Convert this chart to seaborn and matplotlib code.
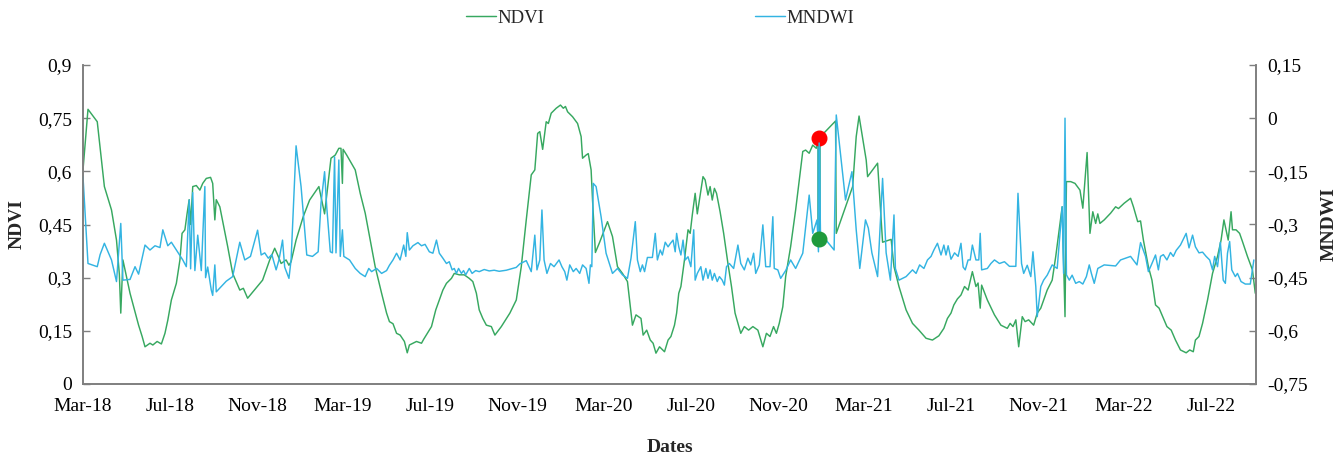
import matplotlib
matplotlib.use("Agg")
import matplotlib.pyplot as plt
from matplotlib.ticker import FixedLocator, FuncFormatter
import seaborn as sns
import pandas as pd

# ---------------- data ----------------
ndvi_dates = [
    "2018-03-01", "2018-03-08", "2018-03-21", "2018-03-31", "2018-04-10", "2018-04-17", "2018-04-21",
    "2018-04-23", "2018-04-26", "2018-05-06", "2018-05-18", "2018-05-23", "2018-05-27", "2018-06-03",
    "2018-06-07", "2018-06-13", "2018-06-19", "2018-06-24", "2018-06-28", "2018-07-03", "2018-07-10",
    "2018-07-15", "2018-07-18", "2018-07-22", "2018-07-25", "2018-07-28", "2018-07-30", "2018-08-02",
    "2018-08-07", "2018-08-12", "2018-08-16", "2018-08-21", "2018-08-27", "2018-08-30", "2018-09-02",
    "2018-09-04", "2018-09-09", "2018-09-20", "2018-09-27", "2018-10-07", "2018-10-12", "2018-10-18",
    "2018-11-08", "2018-11-18", "2018-11-25", "2018-11-30", "2018-12-04", "2018-12-11", "2018-12-15",
    "2018-12-18", "2018-12-25", "2019-01-04", "2019-01-13", "2019-01-26", "2019-02-03", "2019-02-12",
    "2019-02-18", "2019-02-23", "2019-02-26", "2019-02-28", "2019-03-01", "2019-03-06", "2019-03-18",
    "2019-03-25", "2019-04-01", "2019-04-08", "2019-04-15", "2019-04-24", "2019-05-01", "2019-05-05",
    "2019-05-10", "2019-05-15", "2019-05-20", "2019-05-26", "2019-05-30", "2019-06-02", "2019-06-12",
    "2019-06-19", "2019-06-22", "2019-07-03", "2019-07-09", "2019-07-14", "2019-07-19", "2019-07-24",
    "2019-07-31", "2019-08-04", "2019-08-11", "2019-08-18", "2019-08-25", "2019-08-30", "2019-09-04",
    "2019-09-08", "2019-09-13", "2019-09-18", "2019-09-25", "2019-09-30", "2019-10-09", "2019-10-21",
    "2019-10-30", "2019-11-06", "2019-11-13", "2019-11-20", "2019-11-25", "2019-11-29", "2019-12-02",
    "2019-12-06", "2019-12-11", "2019-12-14", "2019-12-18", "2019-12-25", "2019-12-31", "2020-01-04",
    "2020-01-07", "2020-01-10", "2020-01-17", "2020-01-24", "2020-01-29", "2020-01-31", "2020-02-05",
    "2020-02-08", "2020-02-12", "2020-02-14", "2020-02-18", "2020-02-24", "2020-03-06", "2020-03-13",
    "2020-03-20", "2020-03-27", "2020-04-03", "2020-04-10", "2020-04-15", "2020-04-22", "2020-04-25",
    "2020-04-30", "2020-05-05", "2020-05-09", "2020-05-13", "2020-05-18", "2020-05-25", "2020-05-30",
    "2020-06-03", "2020-06-08", "2020-06-11", "2020-06-14", "2020-06-17", "2020-06-22", "2020-06-27",
    "2020-06-30", "2020-07-03", "2020-07-07", "2020-07-10", "2020-07-13", "2020-07-18", "2020-07-21",
    "2020-07-25", "2020-07-28", "2020-07-31", "2020-08-03", "2020-08-06", "2020-08-11", "2020-08-16",
    "2020-08-22", "2020-08-27", "2020-09-01", "2020-09-09", "2020-09-14", "2020-09-20", "2020-09-26",
    "2020-10-03", "2020-10-10", "2020-10-15", "2020-10-20", "2020-10-25", "2020-10-29", "2020-11-02",
    "2020-11-07", "2020-11-11", "2020-11-18", "2020-11-25", "2020-12-05", "2020-12-09", "2020-12-14",
    "2020-12-19", "2020-12-24", "2020-12-28", "2021-01-20", "2021-01-21", "2021-02-13", "2021-02-18",
    "2021-02-22", "2021-03-04", "2021-03-06", "2021-03-20", "2021-03-27", "2021-04-08", "2021-04-12",
    "2021-04-19", "2021-04-29", "2021-05-08", "2021-05-17", "2021-05-27", "2021-06-05", "2021-06-14",
    "2021-06-21", "2021-06-26", "2021-07-01", "2021-07-05", "2021-07-10", "2021-07-15", "2021-07-20",
    "2021-07-25", "2021-07-31", "2021-08-05", "2021-08-08", "2021-08-11", "2021-08-13", "2021-08-21",
    "2021-08-31", "2021-09-09", "2021-09-18", "2021-09-22", "2021-09-26", "2021-09-30", "2021-10-04",
    "2021-10-09", "2021-10-13", "2021-10-18", "2021-10-25", "2021-10-30", "2021-11-04", "2021-11-13",
    "2021-11-20", "2021-11-25", "2021-12-04", "2021-12-08", "2021-12-10", "2021-12-16", "2021-12-22",
    "2021-12-29", "2022-01-02", "2022-01-08", "2022-01-12", "2022-01-16", "2022-01-20", "2022-01-23",
    "2022-01-26", "2022-02-01", "2022-02-10", "2022-02-17", "2022-02-21", "2022-03-01", "2022-03-10",
    "2022-03-14", "2022-03-20", "2022-03-24", "2022-03-28", "2022-04-04", "2022-04-09", "2022-04-14",
    "2022-04-19", "2022-04-24", "2022-04-30", "2022-05-06", "2022-05-12", "2022-05-19", "2022-05-27",
    "2022-06-01", "2022-06-06", "2022-06-09", "2022-06-14", "2022-06-19", "2022-06-26", "2022-07-03",
    "2022-07-10", "2022-07-15", "2022-07-19", "2022-07-22", "2022-07-25", "2022-07-29", "2022-07-31",
    "2022-08-05", "2022-08-10", "2022-08-14", "2022-08-21", "2022-08-28", "2022-09-01",
]
ndvi_values = [
    0.604, 0.775, 0.74, 0.557, 0.491, 0.406, 0.31,
    0.20, 0.35, 0.256, 0.166, 0.134, 0.105, 0.115,
    0.11, 0.12, 0.113, 0.143, 0.18, 0.237, 0.284,
    0.35, 0.425, 0.435, 0.48, 0.52, 0.45, 0.557,
    0.56, 0.547, 0.566, 0.58, 0.583, 0.566, 0.463,
    0.52, 0.50, 0.388, 0.312, 0.265, 0.27, 0.242,
    0.293, 0.35, 0.383, 0.36, 0.34, 0.35, 0.335,
    0.345, 0.406, 0.472, 0.519, 0.557, 0.48, 0.637,
    0.646, 0.665, 0.665, 0.566, 0.662, 0.646, 0.604,
    0.538, 0.482, 0.406, 0.331, 0.256, 0.20, 0.176,
    0.17, 0.143, 0.138, 0.12, 0.088, 0.11, 0.12,
    0.115, 0.126, 0.162, 0.209, 0.237, 0.265, 0.284,
    0.298, 0.312, 0.308, 0.308, 0.298, 0.289, 0.256,
    0.209, 0.185, 0.166, 0.162, 0.138, 0.162, 0.20,
    0.237, 0.331, 0.463, 0.59, 0.604, 0.707, 0.712,
    0.662, 0.74, 0.735, 0.764, 0.778, 0.787, 0.778,
    0.783, 0.768, 0.754, 0.735, 0.698, 0.637, 0.646,
    0.65, 0.604, 0.519, 0.371, 0.40, 0.458, 0.416,
    0.331, 0.312, 0.289, 0.166, 0.195, 0.185, 0.138,
    0.152, 0.124, 0.115, 0.087, 0.105, 0.091, 0.124,
    0.134, 0.166, 0.20, 0.256, 0.275, 0.35, 0.435,
    0.425, 0.477, 0.538, 0.48, 0.519, 0.585, 0.576,
    0.533, 0.557, 0.519, 0.552, 0.538, 0.486, 0.425,
    0.34, 0.275, 0.20, 0.143, 0.162, 0.152, 0.162,
    0.152, 0.105, 0.143, 0.134, 0.162, 0.143, 0.171,
    0.218, 0.303, 0.388, 0.491, 0.656, 0.66, 0.651,
    0.674, 0.665, 0.694, 0.742, 0.425, 0.557, 0.698,
    0.756, 0.632, 0.585, 0.623, 0.40, 0.408, 0.331,
    0.275, 0.209, 0.171, 0.152, 0.129, 0.124, 0.136,
    0.157, 0.185, 0.20, 0.223, 0.24, 0.251, 0.275,
    0.265, 0.317, 0.275, 0.285, 0.214, 0.279, 0.237,
    0.195, 0.166, 0.157, 0.171, 0.162, 0.181, 0.105,
    0.19, 0.176, 0.181, 0.166, 0.20, 0.214, 0.265,
    0.293, 0.36, 0.50, 0.19, 0.571, 0.571, 0.566,
    0.547, 0.496, 0.653, 0.425, 0.486, 0.453, 0.48,
    0.453, 0.463, 0.482, 0.50, 0.495, 0.51, 0.524,
    0.50, 0.458, 0.46, 0.406, 0.331, 0.293, 0.223,
    0.214, 0.19, 0.162, 0.152, 0.124, 0.096, 0.088,
    0.096, 0.091, 0.124, 0.134, 0.171, 0.237, 0.312,
    0.36, 0.406, 0.463, 0.435, 0.406, 0.486, 0.435,
    0.435, 0.425, 0.402, 0.36, 0.322, 0.256,
]

mndwi_dates = [
    "2018-03-01", "2018-03-08", "2018-03-21", "2018-03-25", "2018-03-31", "2018-04-10", "2018-04-17",
    "2018-04-23", "2018-04-26", "2018-05-06", "2018-05-13", "2018-05-18", "2018-05-27", "2018-06-03",
    "2018-06-10", "2018-06-17", "2018-06-21", "2018-06-28", "2018-07-03", "2018-07-10", "2018-07-19",
    "2018-07-24", "2018-07-28", "2018-07-30", "2018-08-02", "2018-08-05", "2018-08-09", "2018-08-14",
    "2018-08-19", "2018-08-20", "2018-08-23", "2018-08-28", "2018-08-30", "2018-09-02", "2018-09-04",
    "2018-09-18", "2018-09-27", "2018-10-07", "2018-10-14", "2018-10-22", "2018-11-01", "2018-11-06",
    "2018-11-11", "2018-11-16", "2018-11-21", "2018-11-27", "2018-12-01", "2018-12-06", "2018-12-09",
    "2018-12-15", "2018-12-18", "2018-12-25", "2019-01-01", "2019-01-09", "2019-01-17", "2019-01-25",
    "2019-01-29", "2019-02-03", "2019-02-06", "2019-02-11", "2019-02-14", "2019-02-17", "2019-02-19",
    "2019-02-23", "2019-02-25", "2019-02-28", "2019-03-02", "2019-03-10", "2019-03-18", "2019-03-25",
    "2019-04-01", "2019-04-06", "2019-04-10", "2019-04-17", "2019-04-24", "2019-05-01", "2019-05-05",
    "2019-05-10", "2019-05-15", "2019-05-20", "2019-05-25", "2019-05-28", "2019-05-30", "2019-06-02",
    "2019-06-07", "2019-06-14", "2019-06-19", "2019-06-24", "2019-06-30", "2019-07-05", "2019-07-10",
    "2019-07-14", "2019-07-19", "2019-07-24", "2019-07-28", "2019-08-01", "2019-08-04", "2019-08-07",
    "2019-08-10", "2019-08-14", "2019-08-17", "2019-08-20", "2019-08-25", "2019-08-29", "2019-09-03",
    "2019-09-08", "2019-09-15", "2019-09-22", "2019-09-29", "2019-10-06", "2019-10-16", "2019-10-25",
    "2019-10-30", "2019-11-04", "2019-11-13", "2019-11-20", "2019-11-25", "2019-11-28", "2019-12-02",
    "2019-12-05", "2019-12-08", "2019-12-12", "2019-12-17", "2019-12-22", "2019-12-29", "2020-01-02",
    "2020-01-06", "2020-01-09", "2020-01-13", "2020-01-18", "2020-01-22", "2020-01-27", "2020-01-31",
    "2020-02-05", "2020-02-09", "2020-02-11", "2020-02-13", "2020-02-15", "2020-02-19", "2020-02-26",
    "2020-03-04", "2020-03-13", "2020-03-20", "2020-03-27", "2020-04-03", "2020-04-08", "2020-04-14",
    "2020-04-17", "2020-04-21", "2020-04-24", "2020-04-27", "2020-05-01", "2020-05-08", "2020-05-12",
    "2020-05-15", "2020-05-19", "2020-05-22", "2020-05-26", "2020-05-30", "2020-06-02", "2020-06-06",
    "2020-06-09", "2020-06-11", "2020-06-14", "2020-06-17", "2020-06-20", "2020-06-23", "2020-06-27",
    "2020-07-01", "2020-07-05", "2020-07-07", "2020-07-10", "2020-07-15", "2020-07-18", "2020-07-22",
    "2020-07-25", "2020-07-28", "2020-07-31", "2020-08-03", "2020-08-07", "2020-08-10", "2020-08-14",
    "2020-08-17", "2020-08-20", "2020-08-24", "2020-08-30", "2020-09-05", "2020-09-09", "2020-09-14",
    "2020-09-19", "2020-09-23", "2020-09-27", "2020-09-30", "2020-10-05", "2020-10-10", "2020-10-14",
    "2020-10-20", "2020-10-24", "2020-10-26", "2020-10-31", "2020-11-04", "2020-11-11", "2020-11-18",
    "2020-11-25", "2020-12-05", "2020-12-14", "2020-12-19", "2020-12-25", "2020-12-27", "2020-12-28",
    "2020-12-30", "2021-01-05", "2021-01-18", "2021-01-21", "2021-02-03", "2021-02-12", "2021-02-18",
    "2021-02-23", "2021-03-03", "2021-03-07", "2021-03-12", "2021-03-20", "2021-03-27", "2021-04-01",
    "2021-04-07", "2021-04-12", "2021-04-14", "2021-04-19", "2021-04-29", "2021-05-08", "2021-05-13",
    "2021-05-18", "2021-05-24", "2021-05-29", "2021-06-03", "2021-06-07", "2021-06-12", "2021-06-17",
    "2021-06-21", "2021-06-24", "2021-06-27", "2021-07-01", "2021-07-06", "2021-07-11", "2021-07-15",
    "2021-07-18", "2021-07-21", "2021-07-25", "2021-07-28", "2021-07-31", "2021-08-05", "2021-08-09",
    "2021-08-11", "2021-08-13", "2021-08-21", "2021-08-26", "2021-08-31", "2021-09-07", "2021-09-14",
    "2021-09-21", "2021-09-30", "2021-10-03", "2021-10-08", "2021-10-11", "2021-10-16", "2021-10-21",
    "2021-10-24", "2021-10-28", "2021-10-30", "2021-11-04", "2021-11-08", "2021-11-13", "2021-11-20",
    "2021-11-27", "2021-12-04", "2021-12-06", "2021-12-08", "2021-12-10", "2021-12-14", "2021-12-18",
    "2021-12-23", "2021-12-28", "2022-01-02", "2022-01-07", "2022-01-11", "2022-01-14", "2022-01-18",
    "2022-01-23", "2022-02-01", "2022-02-17", "2022-02-24", "2022-03-10", "2022-03-19", "2022-03-24",
    "2022-03-31", "2022-04-04", "2022-04-09", "2022-04-14", "2022-04-18", "2022-04-21", "2022-04-25",
    "2022-04-30", "2022-05-05", "2022-05-09", "2022-05-13", "2022-05-19", "2022-05-27", "2022-05-31",
    "2022-06-05", "2022-06-09", "2022-06-14", "2022-06-19", "2022-06-24", "2022-06-29", "2022-07-03",
    "2022-07-06", "2022-07-10", "2022-07-14", "2022-07-18", "2022-07-21", "2022-07-24", "2022-07-27",
    "2022-07-30", "2022-08-04", "2022-08-07", "2022-08-12", "2022-08-18", "2022-08-25", "2022-08-30",
]
mndwi_values = [
    -0.165, -0.41, -0.419, -0.385, -0.353, -0.40, -0.461,
    -0.297, -0.457, -0.455, -0.419, -0.44, -0.358, -0.372,
    -0.36, -0.365, -0.315, -0.36, -0.35, -0.372, -0.40,
    -0.419, -0.231, -0.425, -0.21, -0.43, -0.33, -0.43,
    -0.193, -0.45, -0.42, -0.485, -0.50, -0.414, -0.49,
    -0.46, -0.447, -0.35, -0.40, -0.39, -0.316, -0.386,
    -0.38, -0.395, -0.385, -0.428, -0.40, -0.344, -0.42,
    -0.452, -0.40, -0.078, -0.193, -0.386, -0.39, -0.377,
    -0.24, -0.151, -0.25, -0.377, -0.38, -0.109, -0.38,
    -0.118, -0.39, -0.315, -0.39, -0.40, -0.424, -0.438,
    -0.447, -0.424, -0.433, -0.424, -0.438, -0.43, -0.415,
    -0.40, -0.381, -0.40, -0.358, -0.39, -0.323, -0.372,
    -0.36, -0.351, -0.36, -0.356, -0.377, -0.381, -0.344,
    -0.381, -0.395, -0.41, -0.405, -0.428, -0.424, -0.438,
    -0.424, -0.438, -0.43, -0.442, -0.424, -0.438, -0.43,
    -0.433, -0.427, -0.431, -0.429, -0.432, -0.429, -0.424,
    -0.421, -0.411, -0.402, -0.433, -0.33, -0.428, -0.40,
    -0.259, -0.40, -0.438, -0.41, -0.419, -0.40, -0.419,
    -0.433, -0.457, -0.414, -0.433, -0.424, -0.438, -0.414,
    -0.424, -0.466, -0.414, -0.419, -0.184, -0.193, -0.278,
    -0.381, -0.438, -0.424, -0.442, -0.452, -0.395, -0.292,
    -0.40, -0.433, -0.414, -0.433, -0.393, -0.393, -0.325,
    -0.40, -0.372, -0.386, -0.35, -0.363, -0.354, -0.344,
    -0.377, -0.325, -0.363, -0.386, -0.344, -0.40, -0.391,
    -0.419, -0.315, -0.457, -0.438, -0.419, -0.457, -0.424,
    -0.452, -0.428, -0.457, -0.438, -0.461, -0.447, -0.457,
    -0.471, -0.419, -0.41, -0.424, -0.358, -0.41, -0.428,
    -0.395, -0.414, -0.381, -0.438, -0.414, -0.301, -0.419,
    -0.419, -0.278, -0.424, -0.428, -0.452, -0.43, -0.40,
    -0.424, -0.381, -0.217, -0.325, -0.287, -0.377, -0.07,
    -0.344, -0.34, -0.372, 0.009, -0.231, -0.151, -0.315,
    -0.424, -0.287, -0.31, -0.38, -0.447, -0.17, -0.38,
    -0.457, -0.273, -0.424, -0.457, -0.447, -0.428, -0.438,
    -0.414, -0.424, -0.40, -0.39, -0.372, -0.353, -0.386,
    -0.358, -0.386, -0.36, -0.398, -0.38, -0.39, -0.353,
    -0.42, -0.428, -0.40, -0.40, -0.358, -0.40, -0.40,
    -0.325, -0.428, -0.424, -0.41, -0.40, -0.41, -0.405,
    -0.418, -0.418, -0.212, -0.41, -0.438, -0.415, -0.447,
    -0.377, -0.475, -0.56, -0.475, -0.457, -0.443, -0.414,
    -0.424, -0.25, -0.438, 0.0, -0.442, -0.457, -0.443,
    -0.466, -0.461, -0.468, -0.447, -0.414, -0.438, -0.466,
    -0.424, -0.414, -0.417, -0.40, -0.39, -0.414, -0.351,
    -0.39, -0.433, -0.41, -0.386, -0.428, -0.39, -0.385,
    -0.40, -0.379, -0.39, -0.373, -0.358, -0.325, -0.366,
    -0.33, -0.363, -0.38, -0.378, -0.39, -0.40, -0.428,
    -0.39, -0.419, -0.35, -0.457, -0.466, -0.381, -0.348,
    -0.428, -0.447, -0.438, -0.461, -0.468, -0.468, -0.40,
]

highlight_date = "2020-12-28"
highlight_ndvi = 0.694      # red point (left axis)
highlight_mndwi = -0.341    # green point (right axis)

ndvi_ticks = [0, 0.15, 0.3, 0.45, 0.6, 0.75, 0.9]
mndwi_ticks = [-0.75, -0.6, -0.45, -0.3, -0.15, 0, 0.15]
x_tick_dates = ["2018-03-01", "2018-07-01", "2018-11-01", "2019-03-01", "2019-07-01",
                "2019-11-01", "2020-03-01", "2020-07-01", "2020-11-01", "2021-03-01",
                "2021-07-01", "2021-11-01", "2022-03-01", "2022-07-01"]
x_tick_labels = ["Mar-18", "Jul-18", "Nov-18", "Mar-19", "Jul-19", "Nov-19", "Mar-20",
                 "Jul-20", "Nov-20", "Mar-21", "Jul-21", "Nov-21", "Mar-22", "Jul-22"]

# ---------------- style ----------------
sns.set_style("white")
plt.rcParams["font.family"] = ["Liberation Serif", "DejaVu Serif"]

GREEN = "#37a860"
BLUE = "#33b4e2"
AXIS = "#7f7f7f"

df_n = pd.DataFrame({"date": pd.to_datetime(ndvi_dates), "v": ndvi_values})
df_m = pd.DataFrame({"date": pd.to_datetime(mndwi_dates), "v": mndwi_values})

fig = plt.figure(figsize=(13.37, 4.57), dpi=100)
ax = fig.add_axes([83 / 1337, 1 - 384 / 457, (1256 - 83) / 1337, (384 - 65) / 457])
ax2 = ax.twinx()

sns.lineplot(data=df_n, x="date", y="v", ax=ax, color=GREEN, linewidth=1.05,
             label="NDVI", legend=False, estimator=None, sort=False)
sns.lineplot(data=df_m, x="date", y="v", ax=ax2, color=BLUE, linewidth=1.05,
             label="MNDWI", legend=False, estimator=None, sort=False)

# highlighted date
hd = pd.to_datetime(highlight_date)
ax.plot([hd, hd], [highlight_mndwi + 0.75, highlight_ndvi], color="#27a9a0",
        linewidth=2.6, zorder=4, solid_capstyle="butt")
ax.plot([hd], [highlight_ndvi], "o", color="#ff0000", markersize=10.5, zorder=5)
ax2.plot([hd], [highlight_mndwi], "o", color="#1f9a3c", markersize=10.5, zorder=5)

ax.set_xlim(pd.Timestamp("2018-03-01"), pd.Timestamp("2022-09-02"))
ax.set_ylim(0, 0.9)
ax2.set_ylim(-0.75, 0.15)


def comma(v, pos=None):
    s = f"{v:.2f}".rstrip("0").rstrip(".")
    if s in ("-0", "0."):
        s = "0"
    return s.replace(".", ",")


ax.yaxis.set_major_locator(FixedLocator(ndvi_ticks))
ax.yaxis.set_major_formatter(FuncFormatter(comma))
ax2.yaxis.set_major_locator(FixedLocator(mndwi_ticks))
ax2.yaxis.set_major_formatter(FuncFormatter(comma))

ax.set_xticks(pd.to_datetime(x_tick_dates))
ax.set_xticklabels(x_tick_labels)

for a in (ax, ax2):
    a.tick_params(axis="both", which="major", direction="in", length=5, width=1,
                  color=AXIS, labelsize=14, labelcolor="#000000", pad=8)
    a.spines["top"].set_visible(False)
    for s in ("left", "right", "bottom"):
        a.spines[s].set_color(AXIS)
        a.spines[s].set_linewidth(1.2)
    a.grid(False)
ax.tick_params(axis="x", pad=10)

ax.set_xlabel("Dates", fontsize=14, fontweight="bold", labelpad=17)
ax.set_ylabel("NDVI", fontsize=14, fontweight="bold", labelpad=9)
ax2.set_ylabel("MNDWI", fontsize=14, fontweight="bold", labelpad=9)

handles = [ax.get_lines()[0], ax2.get_lines()[0]]
fig.legend(handles, ["NDVI", "MNDWI"], loc="center", bbox_to_anchor=(660 / 1337, 1 - 18 / 457),
           ncol=2, frameon=False, fontsize=13.5, handlelength=1.6, handletextpad=0.1,
           columnspacing=11.2)

fig.savefig("out.png", dpi=100)
